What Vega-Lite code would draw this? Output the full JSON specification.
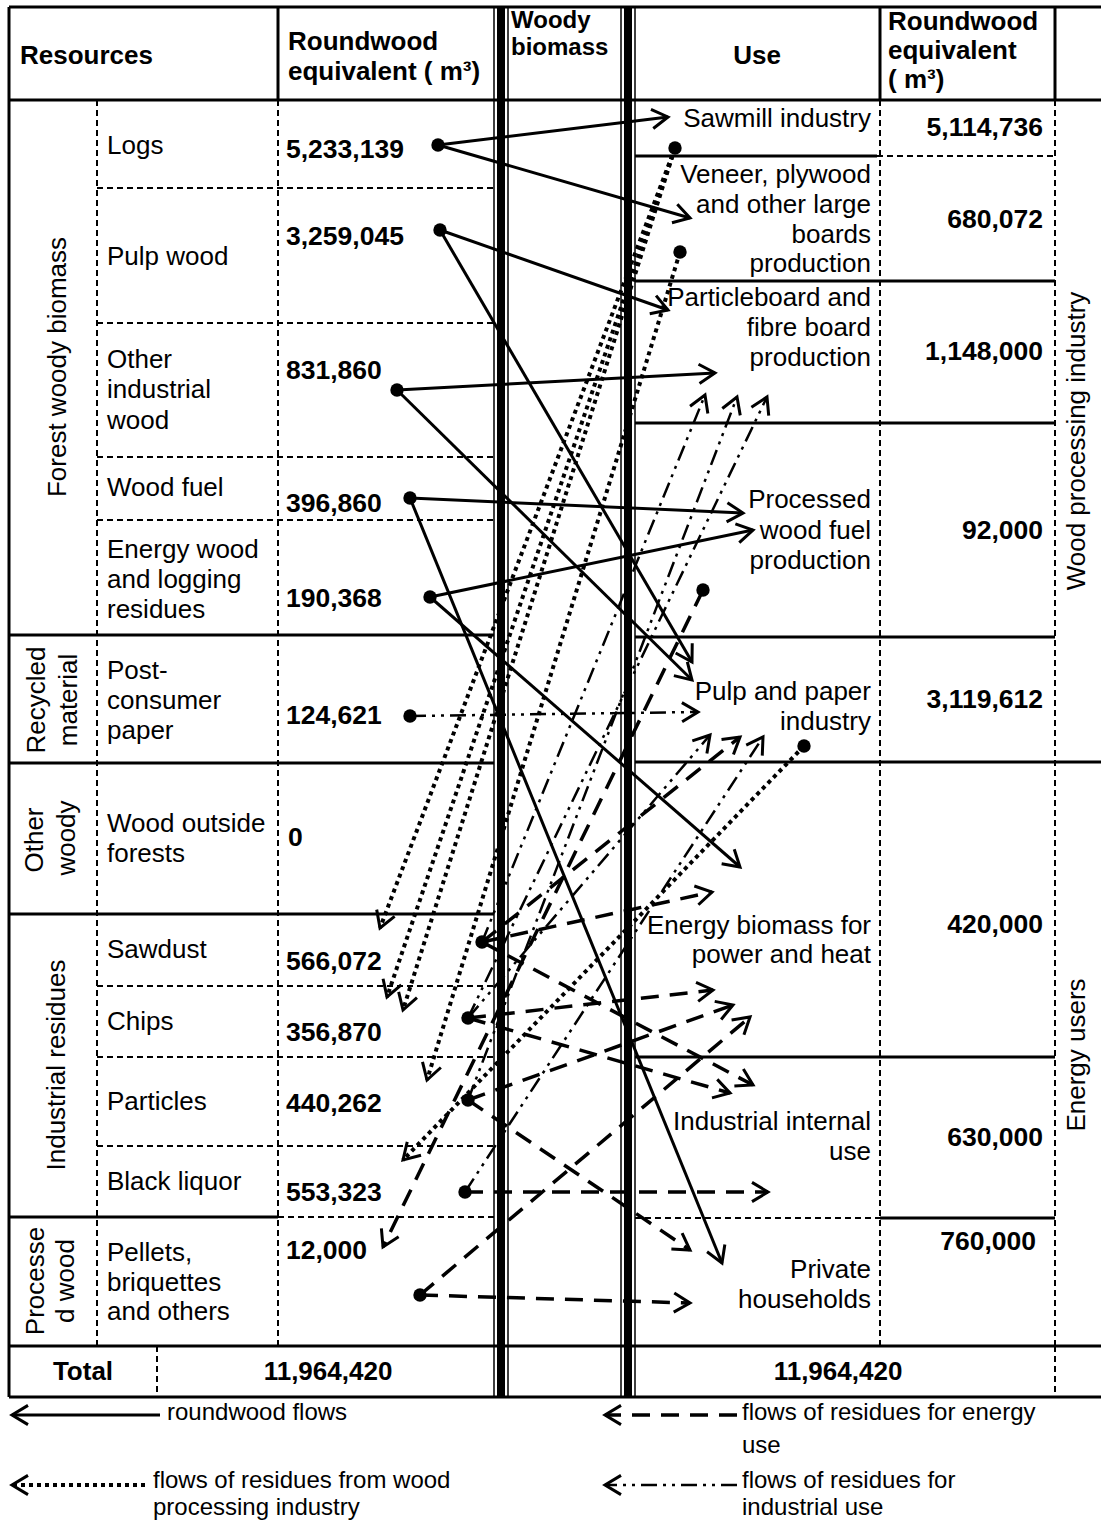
{
  "$schema": "https://vega.github.io/schema/vega-lite/v6.json",
  "width": 1101,
  "height": 1522,
  "padding": 0,
  "autosize": {"type": "none"},
  "background": "white",
  "config": {"view": {"stroke": null}},
  "datasets": {
    "grid": [
      {"s": "solid", "x1": 9, "y1": 7, "x2": 1101, "y2": 7},
      {"s": "solid", "x1": 9, "y1": 100, "x2": 1101, "y2": 100},
      {"s": "solid", "x1": 9, "y1": 7, "x2": 9, "y2": 1397},
      {"s": "solid", "x1": 278, "y1": 7, "x2": 278, "y2": 100},
      {"s": "solid", "x1": 880, "y1": 7, "x2": 880, "y2": 100},
      {"s": "solid", "x1": 1055, "y1": 7, "x2": 1055, "y2": 100},
      {"s": "solid", "x1": 9, "y1": 635, "x2": 494, "y2": 635},
      {"s": "solid", "x1": 9, "y1": 763, "x2": 494, "y2": 763},
      {"s": "solid", "x1": 9, "y1": 914, "x2": 494, "y2": 914},
      {"s": "solid", "x1": 9, "y1": 1217, "x2": 278, "y2": 1217},
      {"s": "solid", "x1": 9, "y1": 1346, "x2": 1101, "y2": 1346},
      {"s": "solid", "x1": 9, "y1": 1397, "x2": 1101, "y2": 1397},
      {"s": "solid", "x1": 635, "y1": 156, "x2": 877, "y2": 156},
      {"s": "solid", "x1": 635, "y1": 281, "x2": 1055, "y2": 281},
      {"s": "solid", "x1": 635, "y1": 423, "x2": 1055, "y2": 423},
      {"s": "solid", "x1": 635, "y1": 637, "x2": 1055, "y2": 637},
      {"s": "solid", "x1": 635, "y1": 762, "x2": 1101, "y2": 762},
      {"s": "solid", "x1": 635, "y1": 1057, "x2": 1055, "y2": 1057},
      {"s": "solid", "x1": 880, "y1": 1218, "x2": 1055, "y2": 1218},
      {"s": "dash", "x1": 97, "y1": 100, "x2": 97, "y2": 1346},
      {"s": "dash", "x1": 278, "y1": 100, "x2": 278, "y2": 1346},
      {"s": "dash", "x1": 97, "y1": 188, "x2": 494, "y2": 188},
      {"s": "dash", "x1": 97, "y1": 323, "x2": 494, "y2": 323},
      {"s": "dash", "x1": 97, "y1": 457, "x2": 494, "y2": 457},
      {"s": "dash", "x1": 97, "y1": 520, "x2": 494, "y2": 520},
      {"s": "dash", "x1": 97, "y1": 986, "x2": 494, "y2": 986},
      {"s": "dash", "x1": 97, "y1": 1057, "x2": 494, "y2": 1057},
      {"s": "dash", "x1": 97, "y1": 1146, "x2": 494, "y2": 1146},
      {"s": "dash", "x1": 278, "y1": 1217, "x2": 494, "y2": 1217},
      {"s": "dash", "x1": 880, "y1": 100, "x2": 880, "y2": 1346},
      {"s": "dash", "x1": 1055, "y1": 100, "x2": 1055, "y2": 1346},
      {"s": "dash", "x1": 877, "y1": 156, "x2": 1055, "y2": 156},
      {"s": "dash", "x1": 635, "y1": 1218, "x2": 880, "y2": 1218},
      {"s": "dash", "x1": 157, "y1": 1346, "x2": 157, "y2": 1397},
      {"s": "dash", "x1": 1055, "y1": 1346, "x2": 1055, "y2": 1397},
      {"s": "bar", "x1": 501, "y1": 7, "x2": 501, "y2": 1397},
      {"s": "bar", "x1": 628, "y1": 7, "x2": 628, "y2": 1397},
      {"s": "thin", "x1": 494, "y1": 7, "x2": 494, "y2": 1397},
      {"s": "thin", "x1": 508, "y1": 7, "x2": 508, "y2": 1397},
      {"s": "thin", "x1": 621, "y1": 7, "x2": 621, "y2": 1397},
      {"s": "thin", "x1": 635, "y1": 7, "x2": 635, "y2": 1397}
    ],
    "flows": [
      {"k": "rw", "x1": 438, "y1": 145, "x2": 668, "y2": 117},
      {"k": "rw", "x1": 438, "y1": 145, "x2": 690, "y2": 218},
      {"k": "rw", "x1": 440, "y1": 230, "x2": 668, "y2": 310},
      {"k": "rw", "x1": 440, "y1": 230, "x2": 692, "y2": 662},
      {"k": "rw", "x1": 397, "y1": 390, "x2": 715, "y2": 373},
      {"k": "rw", "x1": 397, "y1": 390, "x2": 692, "y2": 680},
      {"k": "rw", "x1": 410, "y1": 498, "x2": 743, "y2": 513},
      {"k": "rw", "x1": 410, "y1": 498, "x2": 722, "y2": 1263},
      {"k": "rw", "x1": 430, "y1": 597, "x2": 753, "y2": 530},
      {"k": "rw", "x1": 430, "y1": 597, "x2": 740, "y2": 867},
      {"k": "rw", "x1": 160, "y1": 1415, "x2": 12, "y2": 1415},
      {"k": "pr", "x1": 675, "y1": 148, "x2": 380, "y2": 928},
      {"k": "pr", "x1": 675, "y1": 148, "x2": 387, "y2": 997},
      {"k": "pr", "x1": 675, "y1": 148, "x2": 403, "y2": 1010},
      {"k": "pr", "x1": 680, "y1": 252, "x2": 427, "y2": 1080},
      {"k": "pr", "x1": 804, "y1": 746, "x2": 403, "y2": 1160},
      {"k": "pr", "x1": 145, "y1": 1485, "x2": 12, "y2": 1485},
      {"k": "en", "x1": 482, "y1": 942, "x2": 712, "y2": 892},
      {"k": "en", "x1": 482, "y1": 942, "x2": 753, "y2": 1085},
      {"k": "en", "x1": 482, "y1": 942, "x2": 740, "y2": 737},
      {"k": "en", "x1": 468, "y1": 1018, "x2": 713, "y2": 990},
      {"k": "en", "x1": 468, "y1": 1018, "x2": 730, "y2": 1093},
      {"k": "en", "x1": 468, "y1": 1100, "x2": 733, "y2": 1005},
      {"k": "en", "x1": 468, "y1": 1100, "x2": 690, "y2": 1250},
      {"k": "en", "x1": 465, "y1": 1192, "x2": 768, "y2": 1192},
      {"k": "en", "x1": 420, "y1": 1295, "x2": 750, "y2": 1017},
      {"k": "en", "x1": 420, "y1": 1295, "x2": 690, "y2": 1303},
      {"k": "en", "x1": 703, "y1": 590, "x2": 383, "y2": 1247},
      {"k": "en", "x1": 737, "y1": 1415, "x2": 605, "y2": 1415},
      {"k": "in", "x1": 410, "y1": 716, "x2": 698, "y2": 712},
      {"k": "in", "x1": 482, "y1": 942, "x2": 705, "y2": 395},
      {"k": "in", "x1": 468, "y1": 1100, "x2": 737, "y2": 397},
      {"k": "in", "x1": 468, "y1": 1018, "x2": 767, "y2": 397},
      {"k": "in", "x1": 468, "y1": 1018, "x2": 710, "y2": 735},
      {"k": "in", "x1": 465, "y1": 1192, "x2": 763, "y2": 737},
      {"k": "in", "x1": 737, "y1": 1485, "x2": 605, "y2": 1485}
    ],
    "nodes": [
      {"x": 438, "y": 145}, {"x": 440, "y": 230}, {"x": 397, "y": 390},
      {"x": 410, "y": 498}, {"x": 430, "y": 597}, {"x": 410, "y": 716},
      {"x": 482, "y": 942}, {"x": 468, "y": 1018}, {"x": 468, "y": 1100},
      {"x": 465, "y": 1192}, {"x": 420, "y": 1295}, {"x": 675, "y": 148},
      {"x": 680, "y": 252}, {"x": 703, "y": 590}, {"x": 804, "y": 746}
    ],
    "labels": [
      {"k": "hl", "t": "Resources", "x": 20, "y": 56},
      {"k": "hl", "t": "Roundwood", "x": 288, "y": 42},
      {"k": "hl", "t": "equivalent ( m³)", "x": 288, "y": 72},
      {"k": "hs", "t": "Woody", "x": 511, "y": 21},
      {"k": "hs", "t": "biomass", "x": 511, "y": 48},
      {"k": "hl", "t": "Roundwood", "x": 888, "y": 22},
      {"k": "hl", "t": "equivalent", "x": 888, "y": 51},
      {"k": "hl", "t": "( m³)", "x": 888, "y": 80},
      {"k": "hc", "t": "Use", "x": 757, "y": 56},
      {"k": "hc", "t": "Total", "x": 83, "y": 1372},
      {"k": "hc", "t": "11,964,420", "x": 328, "y": 1372},
      {"k": "hc", "t": "11,964,420", "x": 838, "y": 1372},
      {"k": "nl", "t": "Logs", "x": 107, "y": 146},
      {"k": "nl", "t": "Pulp wood", "x": 107, "y": 257},
      {"k": "nl", "t": "Other", "x": 107, "y": 360},
      {"k": "nl", "t": "industrial", "x": 107, "y": 390},
      {"k": "nl", "t": "wood", "x": 107, "y": 421},
      {"k": "nl", "t": "Wood fuel", "x": 107, "y": 488},
      {"k": "nl", "t": "Energy wood", "x": 107, "y": 550},
      {"k": "nl", "t": "and logging", "x": 107, "y": 580},
      {"k": "nl", "t": "residues", "x": 107, "y": 610},
      {"k": "nl", "t": "Post-", "x": 107, "y": 671},
      {"k": "nl", "t": "consumer", "x": 107, "y": 701},
      {"k": "nl", "t": "paper", "x": 107, "y": 731},
      {"k": "nl", "t": "Wood outside", "x": 107, "y": 824},
      {"k": "nl", "t": "forests", "x": 107, "y": 854},
      {"k": "nl", "t": "Sawdust", "x": 107, "y": 950},
      {"k": "nl", "t": "Chips", "x": 107, "y": 1022},
      {"k": "nl", "t": "Particles", "x": 107, "y": 1102},
      {"k": "nl", "t": "Black liquor", "x": 107, "y": 1182},
      {"k": "nl", "t": "Pellets,", "x": 107, "y": 1253},
      {"k": "nl", "t": "briquettes", "x": 107, "y": 1283},
      {"k": "nl", "t": "and others", "x": 107, "y": 1312},
      {"k": "ur", "t": "Sawmill industry", "x": 871, "y": 119},
      {"k": "ur", "t": "Veneer, plywood", "x": 871, "y": 175},
      {"k": "ur", "t": "and other large", "x": 871, "y": 205},
      {"k": "ur", "t": "boards", "x": 871, "y": 235},
      {"k": "ur", "t": "production", "x": 871, "y": 264},
      {"k": "ur", "t": "Particleboard and", "x": 871, "y": 298},
      {"k": "ur", "t": "fibre board", "x": 871, "y": 328},
      {"k": "ur", "t": "production", "x": 871, "y": 358},
      {"k": "ur", "t": "Processed", "x": 871, "y": 500},
      {"k": "ur", "t": "wood fuel", "x": 871, "y": 531},
      {"k": "ur", "t": "production", "x": 871, "y": 561},
      {"k": "ur", "t": "Pulp and paper", "x": 871, "y": 692},
      {"k": "ur", "t": "industry", "x": 871, "y": 722},
      {"k": "ur", "t": "Energy biomass for", "x": 871, "y": 926},
      {"k": "ur", "t": "power and heat", "x": 871, "y": 955},
      {"k": "ur", "t": "Industrial internal", "x": 871, "y": 1122},
      {"k": "ur", "t": "use", "x": 871, "y": 1152},
      {"k": "ur", "t": "Private", "x": 871, "y": 1270},
      {"k": "ur", "t": "households", "x": 871, "y": 1300},
      {"k": "vl", "t": "5,233,139", "x": 286, "y": 150},
      {"k": "vl", "t": "3,259,045", "x": 286, "y": 237},
      {"k": "vl", "t": "831,860", "x": 286, "y": 371},
      {"k": "vl", "t": "396,860", "x": 286, "y": 504},
      {"k": "vl", "t": "190,368", "x": 286, "y": 599},
      {"k": "vl", "t": "124,621", "x": 286, "y": 716},
      {"k": "vl", "t": "0", "x": 288, "y": 838},
      {"k": "vl", "t": "566,072", "x": 286, "y": 962},
      {"k": "vl", "t": "356,870", "x": 286, "y": 1033},
      {"k": "vl", "t": "440,262", "x": 286, "y": 1104},
      {"k": "vl", "t": "553,323", "x": 286, "y": 1193},
      {"k": "vl", "t": "12,000", "x": 286, "y": 1251},
      {"k": "vr", "t": "5,114,736", "x": 1043, "y": 128},
      {"k": "vr", "t": "680,072", "x": 1043, "y": 220},
      {"k": "vr", "t": "1,148,000", "x": 1043, "y": 352},
      {"k": "vr", "t": "92,000", "x": 1043, "y": 531},
      {"k": "vr", "t": "3,119,612", "x": 1043, "y": 700},
      {"k": "vr", "t": "420,000", "x": 1043, "y": 925},
      {"k": "vr", "t": "630,000", "x": 1043, "y": 1138},
      {"k": "vr", "t": "760,000", "x": 1036, "y": 1242},
      {"k": "rot", "t": "Forest woody biomass", "x": 58, "y": 367},
      {"k": "rot", "t": "Recycled", "x": 37, "y": 700},
      {"k": "rot", "t": "material", "x": 69, "y": 700},
      {"k": "rot", "t": "Other", "x": 35, "y": 840},
      {"k": "rot", "t": "woody", "x": 67, "y": 838},
      {"k": "rot", "t": "Industrial residues", "x": 57, "y": 1065},
      {"k": "rot", "t": "Processe", "x": 36, "y": 1281},
      {"k": "rot", "t": "d wood", "x": 66, "y": 1281},
      {"k": "rot", "t": "Wood processing industry", "x": 1077, "y": 441},
      {"k": "rot", "t": "Energy users", "x": 1077, "y": 1055},
      {"k": "lg", "t": "roundwood flows", "x": 167, "y": 1413},
      {"k": "lg", "t": "flows of residues for energy", "x": 742, "y": 1413},
      {"k": "lg", "t": "use", "x": 742, "y": 1446},
      {"k": "lg", "t": "flows of residues from wood", "x": 153, "y": 1481},
      {"k": "lg", "t": "processing industry", "x": 153, "y": 1508},
      {"k": "lg", "t": "flows of residues for", "x": 742, "y": 1481},
      {"k": "lg", "t": "industrial use", "x": 742, "y": 1508}
    ]
  },
  "layer": [
    {
      "data": {"name": "grid"},
      "transform": [{"filter": "datum.s === 'solid'"}],
      "mark": {"type": "rule", "color": "black", "strokeWidth": 3},
      "encoding": {
        "x": {"field": "x1", "type": "quantitative", "scale": {"domain": [0, 1101], "nice": false, "zero": false}, "axis": null},
        "y": {"field": "y1", "type": "quantitative", "scale": {"domain": [0, 1522], "nice": false, "zero": false, "reverse": true}, "axis": null},
        "x2": {"field": "x2"},
        "y2": {"field": "y2"}
      }
    },
    {
      "data": {"name": "grid"},
      "transform": [{"filter": "datum.s === 'dash'"}],
      "mark": {"type": "rule", "color": "black", "strokeWidth": 2, "strokeDash": [6, 4]},
      "encoding": {
        "x": {"field": "x1", "type": "quantitative", "axis": null},
        "y": {"field": "y1", "type": "quantitative", "axis": null},
        "x2": {"field": "x2"},
        "y2": {"field": "y2"}
      }
    },
    {
      "data": {"name": "grid"},
      "transform": [{"filter": "datum.s === 'bar'"}],
      "mark": {"type": "rule", "color": "black", "strokeWidth": 8},
      "encoding": {
        "x": {"field": "x1", "type": "quantitative", "axis": null},
        "y": {"field": "y1", "type": "quantitative", "axis": null},
        "x2": {"field": "x2"},
        "y2": {"field": "y2"}
      }
    },
    {
      "data": {"name": "grid"},
      "transform": [{"filter": "datum.s === 'thin'"}],
      "mark": {"type": "rule", "color": "black", "strokeWidth": 1.5},
      "encoding": {
        "x": {"field": "x1", "type": "quantitative", "axis": null},
        "y": {"field": "y1", "type": "quantitative", "axis": null},
        "x2": {"field": "x2"},
        "y2": {"field": "y2"}
      }
    },
    {
      "data": {"name": "labels"},
      "transform": [{"filter": "datum.k === 'hl'"}],
      "mark": {"type": "text", "font": "Liberation Sans", "fontSize": 26, "fontWeight": "bold", "align": "left", "baseline": "middle", "color": "black"},
      "encoding": {
        "x": {"field": "x", "type": "quantitative", "axis": null},
        "y": {"field": "y", "type": "quantitative", "axis": null},
        "text": {"field": "t"}
      }
    },
    {
      "data": {"name": "labels"},
      "transform": [{"filter": "datum.k === 'hs'"}],
      "mark": {"type": "text", "font": "Liberation Sans", "fontSize": 24, "fontWeight": "bold", "align": "left", "baseline": "middle", "color": "black"},
      "encoding": {
        "x": {"field": "x", "type": "quantitative", "axis": null},
        "y": {"field": "y", "type": "quantitative", "axis": null},
        "text": {"field": "t"}
      }
    },
    {
      "data": {"name": "labels"},
      "transform": [{"filter": "datum.k === 'hc'"}],
      "mark": {"type": "text", "font": "Liberation Sans", "fontSize": 26, "fontWeight": "bold", "align": "center", "baseline": "middle", "color": "black"},
      "encoding": {
        "x": {"field": "x", "type": "quantitative", "axis": null},
        "y": {"field": "y", "type": "quantitative", "axis": null},
        "text": {"field": "t"}
      }
    },
    {
      "data": {"name": "labels"},
      "transform": [{"filter": "datum.k === 'nl'"}],
      "mark": {"type": "text", "font": "Liberation Sans", "fontSize": 26, "align": "left", "baseline": "middle", "color": "black"},
      "encoding": {
        "x": {"field": "x", "type": "quantitative", "axis": null},
        "y": {"field": "y", "type": "quantitative", "axis": null},
        "text": {"field": "t"}
      }
    },
    {
      "data": {"name": "labels"},
      "transform": [{"filter": "datum.k === 'ur'"}],
      "mark": {"type": "text", "font": "Liberation Sans", "fontSize": 26, "align": "right", "baseline": "middle", "color": "black"},
      "encoding": {
        "x": {"field": "x", "type": "quantitative", "axis": null},
        "y": {"field": "y", "type": "quantitative", "axis": null},
        "text": {"field": "t"}
      }
    },
    {
      "data": {"name": "labels"},
      "transform": [{"filter": "datum.k === 'vl'"}],
      "mark": {"type": "text", "font": "Liberation Sans", "fontSize": 26.5, "fontWeight": "bold", "align": "left", "baseline": "middle", "color": "black"},
      "encoding": {
        "x": {"field": "x", "type": "quantitative", "axis": null},
        "y": {"field": "y", "type": "quantitative", "axis": null},
        "text": {"field": "t"}
      }
    },
    {
      "data": {"name": "labels"},
      "transform": [{"filter": "datum.k === 'vr'"}],
      "mark": {"type": "text", "font": "Liberation Sans", "fontSize": 26.5, "fontWeight": "bold", "align": "right", "baseline": "middle", "color": "black"},
      "encoding": {
        "x": {"field": "x", "type": "quantitative", "axis": null},
        "y": {"field": "y", "type": "quantitative", "axis": null},
        "text": {"field": "t"}
      }
    },
    {
      "data": {"name": "labels"},
      "transform": [{"filter": "datum.k === 'rot'"}],
      "mark": {"type": "text", "font": "Liberation Sans", "fontSize": 26, "align": "center", "baseline": "middle", "angle": 270, "color": "black"},
      "encoding": {
        "x": {"field": "x", "type": "quantitative", "axis": null},
        "y": {"field": "y", "type": "quantitative", "axis": null},
        "text": {"field": "t"}
      }
    },
    {
      "data": {"name": "labels"},
      "transform": [{"filter": "datum.k === 'lg'"}],
      "mark": {"type": "text", "font": "Liberation Sans", "fontSize": 24, "align": "left", "baseline": "middle", "color": "black"},
      "encoding": {
        "x": {"field": "x", "type": "quantitative", "axis": null},
        "y": {"field": "y", "type": "quantitative", "axis": null},
        "text": {"field": "t"}
      }
    },
    {
      "data": {"name": "flows"},
      "transform": [{"filter": "datum.k === 'rw'"}],
      "mark": {"type": "rule", "color": "black", "strokeWidth": 3},
      "encoding": {
        "x": {"field": "x1", "type": "quantitative", "axis": null},
        "y": {"field": "y1", "type": "quantitative", "axis": null},
        "x2": {"field": "x2"},
        "y2": {"field": "y2"}
      }
    },
    {
      "data": {"name": "flows"},
      "transform": [{"filter": "datum.k === 'en'"}],
      "mark": {"type": "rule", "color": "black", "strokeWidth": 3.5, "strokeDash": [18, 11]},
      "encoding": {
        "x": {"field": "x1", "type": "quantitative", "axis": null},
        "y": {"field": "y1", "type": "quantitative", "axis": null},
        "x2": {"field": "x2"},
        "y2": {"field": "y2"}
      }
    },
    {
      "data": {"name": "flows"},
      "transform": [{"filter": "datum.k === 'pr'"}],
      "mark": {"type": "rule", "color": "black", "strokeWidth": 4, "strokeDash": [4, 4]},
      "encoding": {
        "x": {"field": "x1", "type": "quantitative", "axis": null},
        "y": {"field": "y1", "type": "quantitative", "axis": null},
        "x2": {"field": "x2"},
        "y2": {"field": "y2"}
      }
    },
    {
      "data": {"name": "flows"},
      "transform": [{"filter": "datum.k === 'in'"}],
      "mark": {"type": "rule", "color": "black", "strokeWidth": 2.5, "strokeDash": [16, 6, 3, 6, 3, 6]},
      "encoding": {
        "x": {"field": "x1", "type": "quantitative", "axis": null},
        "y": {"field": "y1", "type": "quantitative", "axis": null},
        "x2": {"field": "x2"},
        "y2": {"field": "y2"}
      }
    },
    {
      "data": {"name": "flows"},
      "transform": [{"calculate": "atan2(datum.y2 - datum.y1, datum.x2 - datum.x1) * 180 / PI", "as": "ang"}],
      "mark": {"type": "point", "shape": "M -1 -0.6 L 0 0 L -1 0.6", "size": 1024, "filled": false, "stroke": "black", "strokeWidth": 3, "opacity": 1, "strokeJoin": "miter"},
      "encoding": {
        "x": {"field": "x2", "type": "quantitative", "axis": null},
        "y": {"field": "y2", "type": "quantitative", "axis": null},
        "angle": {"field": "ang", "type": "quantitative", "scale": null}
      }
    },
    {
      "data": {"name": "nodes"},
      "mark": {"type": "point", "shape": "circle", "size": 180, "filled": true, "color": "black", "opacity": 1},
      "encoding": {
        "x": {"field": "x", "type": "quantitative", "axis": null},
        "y": {"field": "y", "type": "quantitative", "axis": null}
      }
    }
  ]
}
